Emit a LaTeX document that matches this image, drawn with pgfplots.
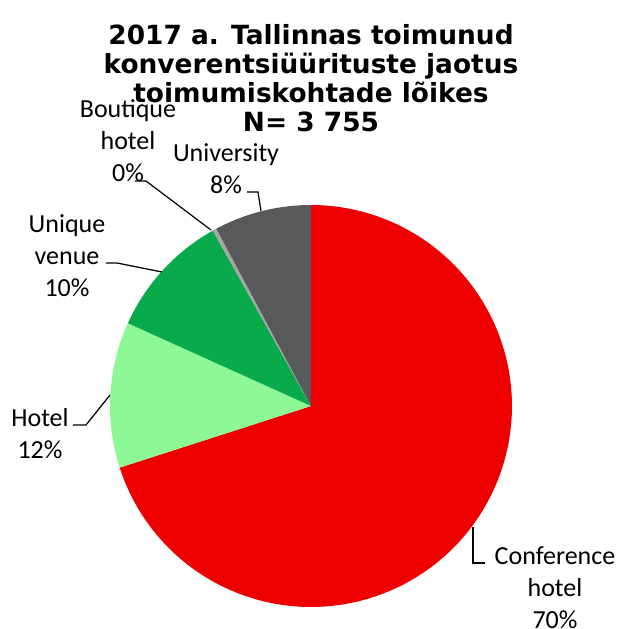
\documentclass[border=0pt]{standalone}
\usepackage{fontspec}
\setmainfont{Carlito}
\newfontfamily\titlefont{DejaVu Sans}
\usepackage{pgfplots}
\usepackage{pgfplotstable}
\pgfplotsset{compat=1.18}
\definecolor{cConf}{RGB}{238,0,0}
\definecolor{cHotel}{RGB}{140,248,150}
\definecolor{cUnique}{RGB}{8,170,75}
\definecolor{cBout}{RGB}{166,166,166}
\definecolor{cUni}{RGB}{88,89,91}

% event counts by venue type, N = 3755
\pgfplotstableread{
name count
Conference 2630
Hotel 440
Unique 380
Boutique 12
University 293
}\pietable

\tikzset{lbl/.style={font=\fontsize{13}{16}\selectfont, align=center, inner sep=0pt}}

\begin{document}
\begin{tikzpicture}
% cumulative angles, clockwise from 12 o'clock
\def\total{3755}
\pgfplotstablegetelem{0}{count}\of\pietable \pgfmathsetmacro\aA{90-\pgfplotsretval/\total*360}
\pgfplotstablegetelem{1}{count}\of\pietable \pgfmathsetmacro\aB{\aA-\pgfplotsretval/\total*360}
\pgfplotstablegetelem{2}{count}\of\pietable \pgfmathsetmacro\aC{\aB-\pgfplotsretval/\total*360}
\pgfplotstablegetelem{3}{count}\of\pietable \pgfmathsetmacro\aD{\aC-\pgfplotsretval/\total*360}
\begin{axis}[
  at={(0,0)}, anchor=south west,
  width=309pt, height=314.5pt, scale only axis,
  xmin=0, xmax=618, ymin=0, ymax=629,
  hide axis, clip=false,
]
\addplot[fill=cConf, draw=none, domain=\aA:90, samples=120, variable=\t]
  ({311+201*cos(\t)},{223+201*sin(\t)}) -- (axis cs:311,223) -- cycle;
\addplot[fill=cHotel, draw=none, domain=\aB:\aA, samples=40, variable=\t]
  ({311+201*cos(\t)},{223+201*sin(\t)}) -- (axis cs:311,223) -- cycle;
\addplot[fill=cUnique, draw=none, domain=\aC:\aB, samples=40, variable=\t]
  ({311+201*cos(\t)},{223+201*sin(\t)}) -- (axis cs:311,223) -- cycle;
\addplot[fill=cBout, draw=none, domain=\aD:\aC, samples=5, variable=\t]
  ({311+201*cos(\t)},{223+201*sin(\t)}) -- (axis cs:311,223) -- cycle;
\addplot[fill=cUni, draw=none, domain=-270:\aD, samples=30, variable=\t]
  ({311+201*cos(\t)},{223+201*sin(\t)}) -- (axis cs:311,223) -- cycle;

% leader lines
\addplot[black, line width=0.6pt, no marks] coordinates {(135,448) (146,448) (211,399)};
\addplot[black, line width=0.6pt, no marks] coordinates {(247,437) (258,437) (261,418)};
\addplot[black, line width=0.6pt, no marks] coordinates {(106,366) (117,366) (162,357)};
\addplot[black, line width=0.6pt, no marks] coordinates {(73,204) (86,204) (110,234)};
\addplot[black, line width=0.6pt, no marks] coordinates {(473,102) (473,66) (485,66)};

\node[lbl] at (axis cs:128,488) {Boutique\\hotel\\0\%};
\node[lbl] at (axis cs:226,460) {University\\8\%};
\node[lbl] at (axis cs:67,373) {Unique\\venue\\10\%};
\node[lbl] at (axis cs:40,195.5) {Hotel\\12\%};
\node[lbl] at (axis cs:555,41) {Conference\\hotel\\70\%};

\node[align=center, inner sep=0pt, font=\titlefont\bfseries\fontsize{13.2}{14.5}\selectfont] at (axis cs:311,551)
  {2017 a. Tallinnas toimunud\\konverentsiüürituste jaotus\\toimumiskohtade lõikes\\N= 3 755};
\end{axis}
\pgfresetboundingbox
\path (0,0) rectangle (309pt,314.5pt);
\end{tikzpicture}
\end{document}
